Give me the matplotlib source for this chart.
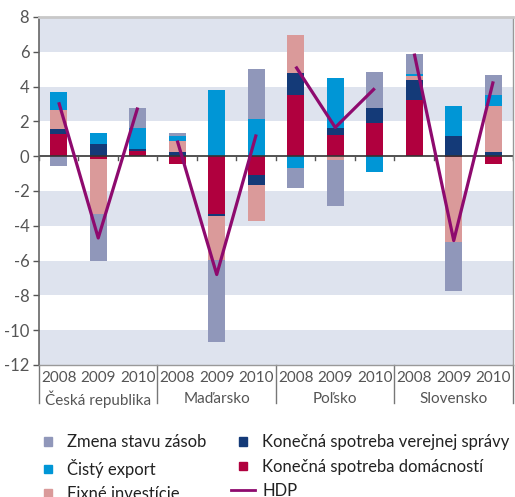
import numpy as np
import matplotlib.pyplot as plt
from matplotlib.patches import Patch, Rectangle
from matplotlib.lines import Line2D
from matplotlib.legend_handler import HandlerPatch

plt.rcParams['font.family'] = ['Lato', 'DejaVu Sans']

countries = ['Česká republika', 'Maďarsko', 'Poľsko', 'Slovensko']
years = ['2008', '2009', '2010']

# contributions to GDP growth, per country x year (CZ, HU, PL, SK)
households = [1.3, -0.15, 0.3, -0.45, -3.3, -1.1, 3.5, 1.2, 1.9, 3.25, -0.05, -0.45]
government = [0.25, 0.7, 0.1, 0.23, -0.12, -0.55, 1.27, 0.4, 0.86, 1.12, 1.15, 0.23]
fixed_inv = [1.1, -3.2, 0.0, 0.63, -2.55, -2.1, 2.18, -0.23, 0.0, 0.23, -4.9, 2.64]
net_export = [1.05, 0.62, 1.2, 0.3, 3.8, 2.13, -0.67, 2.88, -0.92, 0.11, 1.72, 0.63]
inventories = [-0.55, -2.7, 1.15, 0.17, -4.7, 2.87, -1.15, -2.62, 2.07, 1.15, -2.82, 1.16]
gdp = [3.1, -4.7, 2.8, 0.9, -6.8, 1.25, 5.15, 1.65, 3.9, 5.9, -4.85, 4.3]

series = [
    (households, '#b0003e', 'Konečná spotreba domácností'),
    (government, '#143a78', 'Konečná spotreba verejnej správy'),
    (fixed_inv, '#da9a9a', 'Fixné investície'),
    (net_export, '#0096d6', 'Čistý export'),
    (inventories, '#9097ba', 'Zmena stavu zásob'),
]
line_color = '#8e0a6e'
grey_text = '#555555'


def small_square(legend, orig_handle, xdescent, ydescent, width, height, fontsize):
    s = 6.0  # points
    return Rectangle((width / 2 - s / 2 - xdescent, height / 2 - s / 2 - ydescent), s, s)


fig = plt.figure(figsize=(5.15, 4.97), dpi=100)
ax = fig.add_axes([0.0757, 0.2656, 0.9204, 0.7002])

n = len(gdp)
x = np.arange(n)

# horizontal bands
for lo in [6, 2, -4, -8, -12]:
    ax.axhspan(lo, lo + 2, color='#dee3ee', zorder=0, lw=0)

pos_base = np.zeros(n)
neg_base = np.zeros(n)
for vals, col, lab in series:
    v = np.array(vals)
    p = np.where(v > 0, v, 0)
    q = np.where(v < 0, v, 0)
    ax.bar(x, p, bottom=pos_base, width=0.43, color=col, zorder=2, lw=0)
    ax.bar(x, q, bottom=neg_base, width=0.43, color=col, zorder=2, lw=0)
    pos_base += p
    neg_base += q

# GDP line, one segment per country
for c in range(len(countries)):
    idx = slice(c * 3, c * 3 + 3)
    ax.plot(x[idx], gdp[idx], color=line_color, lw=2.3, zorder=3,
            solid_capstyle='butt')

ax.axhline(0, color='#333333', lw=1.2, zorder=2.5)
for b in np.arange(n + 1) - 0.5:
    ax.plot([b, b], [0, -0.2], color='#555555', lw=1, zorder=2.5)

ax.set_xlim(-0.5, n - 0.5)
ax.set_ylim(-12, 8)
ax.set_yticks(range(-12, 9, 2))
ax.set_yticklabels([str(t) for t in range(-12, 9, 2)], color=grey_text, fontsize=12)
ax.tick_params(axis='y', length=4, width=1, color='#555555', pad=3)
ax.set_xticks([])

ax.spines['left'].set_color('#666666')
ax.spines['left'].set_linewidth(1.2)
ax.spines['top'].set_color('#c8c8c8')
ax.spines['top'].set_linewidth(2)
ax.spines['right'].set_color('#999999')
ax.spines['right'].set_linewidth(1)
ax.spines['bottom'].set_color('#999999')
ax.spines['bottom'].set_linewidth(1)

# year and country labels below the axis
tr = ax.get_xaxis_transform()
for i in range(n):
    ax.text(x[i], -0.038, years[i % 3], transform=tr, ha='center', va='center',
            fontsize=11, color=grey_text)
for c, name in enumerate(countries):
    ax.text(c * 3 + 1, -0.098, name, transform=tr, ha='center', va='center',
            fontsize=11, color=grey_text)
for b in range(len(countries) + 1):
    xb = b * 3 - 0.5
    ax.plot([xb, xb], [0, -0.11], transform=tr, color='#777777', lw=1,
            clip_on=False)

handles = [
    Patch(color='#9097ba', label='Zmena stavu zásob'),
    Patch(color='#0096d6', label='Čistý export'),
    Patch(color='#da9a9a', label='Fixné investície'),
    Patch(color='#143a78', label='Konečná spotreba verejnej správy'),
    Patch(color='#b0003e', label='Konečná spotreba domácností'),
    Line2D([], [], color=line_color, lw=2, label='HDP'),
]
fig.legend(handles=handles, ncol=2, loc='lower left', bbox_to_anchor=(0.04, -0.04),
           frameon=False, fontsize=12, handlelength=1.45, handleheight=0.7,
           handletextpad=0.45, columnspacing=1.45, labelspacing=0.5,
           labelcolor='#222222', handler_map={Patch: HandlerPatch(patch_func=small_square)})

fig.savefig('out.png', dpi=100)
